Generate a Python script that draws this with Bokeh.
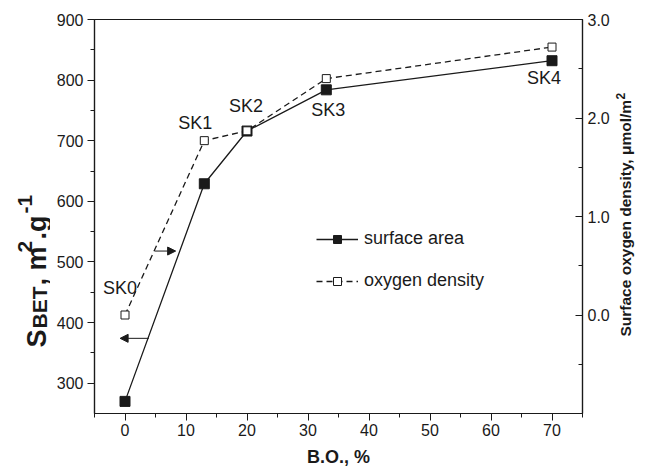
import math
from bokeh.plotting import figure
from bokeh.layouts import row
from bokeh.models import (Range1d, LinearAxis, FixedTicker, PrintfTickFormatter,
                          ColumnDataSource, Legend, LegendItem, Arrow, NormalHead)
from bokeh.core.properties import value
from bokeh.embed import file_html
from bokeh.resources import INLINE

# ---- data ----
samples = ["SK0", "SK1", "SK2", "SK3", "SK4"]
bo_percent = [0, 13, 20, 33, 70]
surface_area = [270, 629, 716, 784, 832]          # m2/g, left axis
oxygen_density = [0.0, 1.77, 1.87, 2.40, 2.72]    # umol/m2, right axis

x_ticks = [0, 10, 20, 30, 40, 50, 60, 70]
left_ticks = [300, 400, 500, 600, 700, 800, 900]
right_ticks = [0.0, 1.0, 2.0, 3.0]

FONT = "Liberation Sans"
INK = "#1a1a1a"

W, H = 645, 470
LW, RW = 50, 33                 # side panels holding the axis titles
MW = W - LW - RW                # main figure width
BL, BR, BT, BB = 44, 29, 19, 57

p = figure(width=MW, height=H, output_backend="svg", toolbar_location=None, title=None,
           x_range=Range1d(-5, 75), y_range=Range1d(250, 900),
           min_border_left=BL, min_border_right=BR, min_border_top=BT, min_border_bottom=BB)
p.extra_y_ranges = {"right": Range1d(-1, 3)}
p.grid.visible = False
p.outline_line_color = INK
p.outline_line_width = 1.2
p.background_fill_color = "white"
p.border_fill_color = "white"

def style_axis(ax):
    ax.axis_line_color = INK
    ax.axis_line_width = 1.2
    ax.major_tick_line_color = INK
    ax.minor_tick_line_color = INK
    ax.major_label_text_font = FONT
    ax.major_label_text_font_size = "16px"
    ax.major_label_text_color = INK

xa = p.xaxis[0]
style_axis(xa)
xa.ticker = FixedTicker(ticks=x_ticks, minor_ticks=[-5, 5, 15, 25, 35, 45, 55, 65, 75])
xa.major_tick_out = 7
xa.major_tick_in = 0
xa.minor_tick_out = 4
xa.minor_tick_in = 0
xa.major_label_standoff = 3
xa.axis_label = "B.O., %"
xa.axis_label_text_font = FONT
xa.axis_label_text_font_style = "bold"
xa.axis_label_text_font_size = "18px"
xa.axis_label_text_color = INK
xa.axis_label_standoff = 8

ya = p.yaxis[0]
style_axis(ya)
ya.ticker = FixedTicker(ticks=left_ticks, minor_ticks=[350, 450, 550, 650, 750, 850])
ya.major_tick_out = 7
ya.major_tick_in = 0
ya.minor_tick_out = 4
ya.minor_tick_in = 0
ya.major_label_standoff = 4

ra = LinearAxis(y_range_name="right")
style_axis(ra)
ra.ticker = FixedTicker(ticks=right_ticks, minor_ticks=[-0.5, 0.5, 1.5, 2.5])
ra.formatter = PrintfTickFormatter(format="%.1f")
ra.major_tick_out = 0
ra.major_tick_in = 7
ra.minor_tick_out = 0
ra.minor_tick_in = 4
ra.major_label_standoff = 5
p.add_layout(ra, "right")

src = ColumnDataSource(dict(x=bo_percent, sa=surface_area, od=oxygen_density, name=samples))

l1 = p.line("x", "sa", source=src, line_color=INK, line_width=1.3)
s1 = p.scatter("x", "sa", source=src, marker="square", size=10, fill_color=INK, line_color=INK)
l2 = p.line("x", "od", source=src, y_range_name="right", line_color=INK, line_width=1.3, line_dash="6 4")
s2 = p.scatter("x", "od", source=src, y_range_name="right", marker="square", size=8,
               fill_color="white", line_color=INK, line_width=1)

lab_off_x = [-5, -9, -1, 2, -8]
lab_off_y = [-27, -18, -25, 20, 17]
for i, name in enumerate(samples):
    if i < 3:
        yv, rng = oxygen_density[i], "right"
    else:
        yv, rng = surface_area[i], "default"
    p.text(x=[bo_percent[i]], y=[yv], text=[name], y_range_name=rng,
           x_offset=lab_off_x[i], y_offset=lab_off_y[i],
           text_align="center", text_baseline="middle",
           text_font=value(FONT), text_font_size="18px", text_color=INK)

p.add_layout(Arrow(end=NormalHead(size=8, fill_color=INK, line_color=INK, line_width=1),
                   x_start=3.9, y_start=374, x_end=-0.8, y_end=374,
                   line_color=INK, line_width=1))
p.add_layout(Arrow(end=NormalHead(size=8, fill_color=INK, line_color=INK, line_width=1),
                   x_start=4.9, y_start=518, x_end=8.3, y_end=518,
                   line_color=INK, line_width=1))

legend = Legend(items=[LegendItem(label="surface area", renderers=[l1, s1]),
                       LegendItem(label="oxygen density", renderers=[l2, s2])],
                location=(222, 122), padding=0, margin=0, spacing=21,
                glyph_width=42, glyph_height=20, label_standoff=6,
                border_line_alpha=0, background_fill_alpha=0,
                label_text_font=FONT, label_text_font_size="18px", label_text_color=INK)
p.add_layout(legend, "center")

# ---- side panels for the rotated axis titles with sub/superscripts ----
def side_panel(width):
    f = figure(frame_width=width, frame_height=H, output_backend="svg",
               toolbar_location=None, title=None,
               x_range=Range1d(0, width), y_range=Range1d(H, 0),
               x_axis_type=None, y_axis_type=None,
               min_border=0, min_border_left=0, min_border_right=0,
               min_border_top=0, min_border_bottom=0)
    f.grid.visible = False
    f.outline_line_color = None
    f.background_fill_color = "white"
    f.border_fill_color = "white"
    return f

def vtitle(fig, pieces, base_x):
    # pieces: (text, font px, baseline shift px, start position along the title)
    for txt, size, shift, y0 in pieces:
        fig.text(x=[base_x + shift], y=[y0], text=[txt], angle=math.pi / 2,
                 text_font=value(FONT), text_font_size=f"{size}px",
                 text_font_style="bold", text_color=INK,
                 text_align="left", text_baseline="alphabetic")

left_panel = side_panel(LW)
big, small = 27, 21
vtitle(left_panel, [("S", big, 0, 328), ("BET", small, 3, 309), (", m", big, 0, 266),
                    ("2", small, -12, 233), (".g", big, 0, 220), ("-1", small, -12, 194)],
       base_x=36)

right_panel = side_panel(RW)
vtitle(right_panel, [("Surface oxygen density, μmol/m", 15.5, 0, 317), ("2", 12, -5, 80)],
       base_x=625 - (W - RW))

layout = row(left_panel, p, right_panel, spacing=0)
open("out.html", "w").write(file_html(layout, INLINE))
